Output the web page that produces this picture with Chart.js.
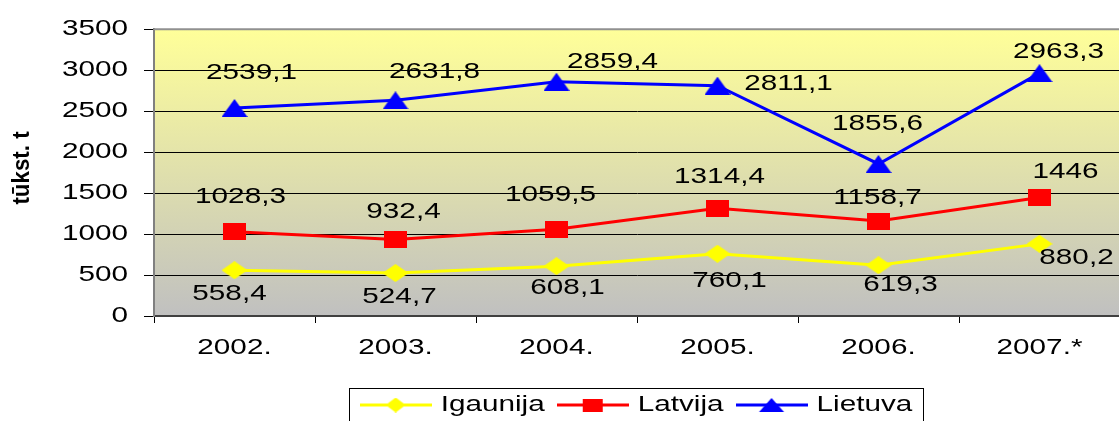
<!DOCTYPE html>
<html>
<head>
<meta charset="utf-8">
<script src="https://cdn.jsdelivr.net/npm/chart.js@4.4.0/dist/chart.umd.min.js"></script>
<style>
    html, body { margin: 0; padding: 0; background: #fff; overflow: hidden; }
    #wrap { width: 1119px; height: 421px; overflow: hidden; }
    canvas { display: block; }
</style>
</head>
<body>
<div id="wrap"><canvas id="LineChart" width="1130" height="432"></canvas></div>
<script>
// Dati
const years = ['2002.', '2003.', '2004.', '2005.', '2006.', '2007.*'];
const igaunija = [558.4, 524.7, 608.1, 760.1, 619.3, 880.2];
const latvija = [1028.3, 932.4, 1059.5, 1314.4, 1158.7, 1446];
const lietuva = [2539.1, 2631.8, 2859.4, 2811.1, 1855.6, 2963.3];
const yMin = 0;
const yMax = 3500;
const yStep = 500;
const yTitle = 'tūkst. t';

const FONT = '"Liberation Sans", Arial, sans-serif';
const STRETCH = 1.35;   // il testo dell'originale è allargato in orizzontale

// spostamento delle etichette dei valori rispetto al punto (px)
const labelShift = {
    Igaunija: [[-5, 24], [4, 24], [11, 22], [12, 27], [22, 20], [37, 14]],
    Latvija: [[6, -35], [8, -28], [-6, -34], [2, -31], [-1, -23], [26, -26]],
    Lietuva: [[17, -35], [39, -28], [56, -20], [71, -2], [-1, -40], [19, -21]]
};

// testo allargato: fillText e measureText del contesto scalati in x
function stretchText(ctx, k) {
    const fill = ctx.fillText.bind(ctx);
    const measure = ctx.measureText.bind(ctx);
    ctx.plainFillText = fill;
    ctx.fillText = function(text, x, y, maxWidth) {
        ctx.save();
        ctx.translate(x, y);
        ctx.scale(k, 1);
        if (maxWidth === undefined) fill(text, 0, 0);
        else fill(text, 0, 0, maxWidth / k);
        ctx.restore();
    };
    ctx.measureText = function(text) {
        const m = measure(text);
        return {
            width: m.width * k,
            actualBoundingBoxLeft: m.actualBoundingBoxLeft * k,
            actualBoundingBoxRight: m.actualBoundingBoxRight * k,
            actualBoundingBoxAscent: m.actualBoundingBoxAscent,
            actualBoundingBoxDescent: m.actualBoundingBoxDescent,
            fontBoundingBoxAscent: m.fontBoundingBoxAscent,
            fontBoundingBoxDescent: m.fontBoundingBoxDescent
        };
    };
}

// marker disegnati su canvas (allargati come in Excel)
function marker(shape, color, w, h, lineLen) {
    const c = document.createElement('canvas');
    c.width = lineLen || w;
    c.height = h;
    const g = c.getContext('2d');
    const cx = c.width / 2, cy = h / 2;
    if (lineLen) {
        g.strokeStyle = color;
        g.lineWidth = 3;
        g.beginPath();
        g.moveTo(0, cy);
        g.lineTo(c.width, cy);
        g.stroke();
    }
    g.fillStyle = color;
    g.beginPath();
    if (shape === 'diamond') {
        g.moveTo(cx - w / 2, cy);
        g.lineTo(cx, cy - h / 2);
        g.lineTo(cx + w / 2, cy);
        g.lineTo(cx, cy + h / 2);
    } else if (shape === 'square') {
        g.rect(cx - w / 2, cy - h / 2, w, h);
    } else {
        g.moveTo(cx, cy - h / 2);
        g.lineTo(cx + w / 2, cy + h / 2);
        g.lineTo(cx - w / 2, cy + h / 2);
    }
    g.closePath();
    g.fill();
    return c;
}

const pointIcons = [
    marker('diamond', '#FFFF00', 26, 18),
    marker('square', '#FF0000', 23, 17),
    marker('triangle', '#0000FF', 26, 18)
];
const legendIcons = [
    marker('diamond', '#FFFF00', 20, 15, 72),
    marker('square', '#FF0000', 20, 13, 72),
    marker('triangle', '#0000FF', 25, 14, 72)
];

// sfondo, etichette, cornici, titolo asse y
const excelLook = {
    id: 'excelLook',
    beforeDraw(chart) {
        const ctx = chart.ctx;
        const a = chart.chartArea;
        const grad = ctx.createLinearGradient(0, a.top, 0, a.bottom);
        grad.addColorStop(0, '#FFFF99');
        grad.addColorStop(1, '#C0C0C0');
        ctx.save();
        ctx.fillStyle = grad;
        ctx.fillRect(a.left, a.top, a.right - a.left, a.bottom - a.top);
        ctx.restore();
    },
    afterDatasetsDraw(chart) {
        const ctx = chart.ctx;
        ctx.save();
        ctx.font = '22px ' + FONT;
        ctx.fillStyle = '#000';
        ctx.textAlign = 'center';
        ctx.textBaseline = 'middle';
        chart.data.datasets.forEach((ds, i) => {
            const shift = labelShift[ds.label];
            chart.getDatasetMeta(i).data.forEach((pt, j) => {
                const txt = String(ds.data[j]).replace('.', ',');
                ctx.fillText(txt, pt.x + shift[j][0], pt.y + shift[j][1]);
            });
        });
        ctx.restore();
    },
    afterDraw(chart) {
        const ctx = chart.ctx;
        const a = chart.chartArea;
        ctx.save();
        // bordo superiore area del grafico
        ctx.strokeStyle = '#909090';
        ctx.lineWidth = 2;
        ctx.beginPath();
        ctx.moveTo(a.left, a.top);
        ctx.lineTo(a.right, a.top);
        ctx.stroke();

        // cornice della legenda
        const boxes = chart.legend.legendHitBoxes;
        if (boxes && boxes.length) {
            const first = boxes[0];
            const last = boxes[boxes.length - 1];
            const l = Math.round(first.left - 13) + 0.5;
            const r = Math.round(last.left + last.width + 11) + 0.5;
            const t = Math.round(chart.legend.top + 8) + 0.5;
            const b = chart.legend.bottom + 10;
            ctx.strokeStyle = '#000';
            ctx.lineWidth = 1;
            ctx.strokeRect(l, t, r - l, b - t);
        }

        // titolo asse y
        ctx.translate(22, 168);
        ctx.rotate(-Math.PI / 2);
        ctx.scale(0.93, 1);
        ctx.font = 'bold 24px ' + FONT;
        ctx.fillStyle = '#000';
        ctx.textAlign = 'center';
        ctx.textBaseline = 'middle';
        ctx.plainFillText(yTitle, 0, 0);
        ctx.restore();
    }
};

const lineData = {
    labels: years,
    datasets: [{
        label: 'Igaunija',
        data: igaunija,
        borderColor: '#FFFF00',
        backgroundColor: '#FFFF00',
        pointStyle: pointIcons[0]
    }, {
        label: 'Latvija',
        data: latvija,
        borderColor: '#FF0000',
        backgroundColor: '#FF0000',
        pointStyle: pointIcons[1]
    }, {
        label: 'Lietuva',
        data: lietuva,
        borderColor: '#0000FF',
        backgroundColor: '#0000FF',
        pointStyle: pointIcons[2]
    }]
};

const lineOptions = {
    responsive: false,
    animation: false,
    layout: {
        padding: { top: 24, right: 5, bottom: 6, left: 0 }
    },
    elements: {
        line: { borderWidth: 3, tension: 0, fill: false },
        point: { radius: 9, hoverRadius: 9 }
    },
    scales: {
        x: {
            offset: true,
            grid: {
                offset: true,
                drawOnChartArea: false,
                tickLength: 7,
                color: '#000'
            },
            border: { color: '#404040', width: 2 },
            ticks: {
                padding: 12,
                color: '#000',
                font: { size: 22, family: FONT }
            },
            afterFit(scale) { scale.height = 64; }
        },
        y: {
            min: yMin,
            max: yMax,
            grid: {
                color: '#000',
                lineWidth: 1,
                tickLength: 10
            },
            border: { color: '#808080', width: 2 },
            ticks: {
                stepSize: yStep,
                padding: 16,
                color: '#000',
                font: { size: 22, family: FONT },
                callback: (v) => String(v)
            },
            afterFit(scale) { scale.width = 154; }
        }
    },
    plugins: {
        tooltip: { enabled: false },
        legend: {
            position: 'bottom',
            fullSize: false,
            labels: {
                usePointStyle: true,
                pointStyleWidth: 68,
                padding: 14,
                color: '#000',
                font: { size: 22, family: FONT },
                generateLabels(chart) {
                    const items = Chart.defaults.plugins.legend.labels.generateLabels(chart);
                    items.forEach((it, i) => { it.pointStyle = legendIcons[i]; });
                    return items;
                }
            }
        }
    }
};

// Creazione del grafico a linee
document.addEventListener('DOMContentLoaded', function() {
    const ctx = document.getElementById('LineChart').getContext('2d');
    stretchText(ctx, STRETCH);
    const lineChart = new Chart(ctx, {
        type: 'line',
        data: lineData,
        options: lineOptions,
        plugins: [excelLook]
    });
});
</script>
</body>
</html>
